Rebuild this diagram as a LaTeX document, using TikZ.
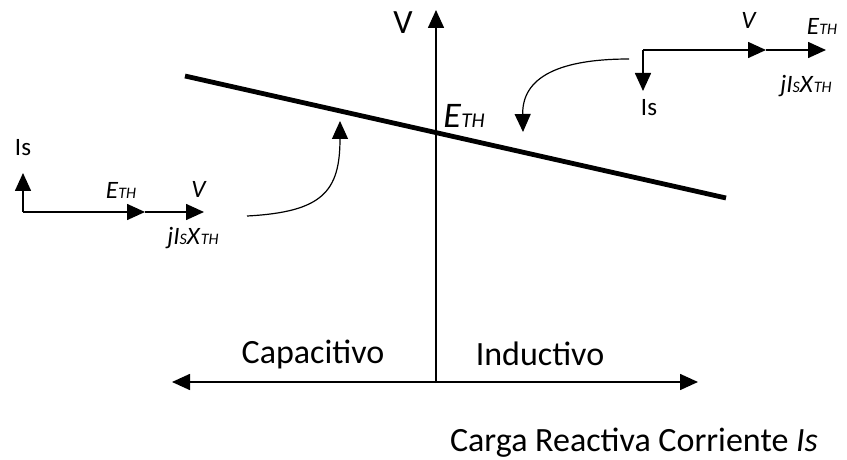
\documentclass[tikz,border=0pt]{standalone}
\usepackage{fontspec}
\setmainfont{Carlito}
\usetikzlibrary{arrows,arrows.meta}
\tikzset{
 lbl/.style={inner sep=0pt, font=\fontsize{17}{20}\selectfont},
 plbl/.style={inner sep=0pt, font=\fontsize{12.5}{14}\selectfont},
 phasor/.style={black, line width=0.8pt, ->, >={Triangle[length=9pt,width=8pt]}},
}
\newcommand{\eth}[1]{\textit{E}{\fontsize{#1}{#1}\selectfont\textit{TH}}}
\newcommand{\jisx}{\textit{jI}{\fontsize{8}{9}\selectfont\textit{S}}\textit{X}{\fontsize{8}{9}\selectfont\textit{TH}}}

\begin{document}
\begin{tikzpicture}[x=0.5pt, y=-0.5pt]
\useasboundingbox (0,0) rectangle (847,460);
% axes
\coordinate (O) at (436,383);
\coordinate (Vtop) at (436,10);
\coordinate (Xl) at (172,382);
\coordinate (Xr) at (698,382);
\draw[phasor] (O)--(Vtop);
\draw[phasor, <->] (Xl)--(Xr);
\node[lbl] (vax) at (403,23) {V};
\node[lbl] (cap) at (313,354) {Capacitivo};
\node[lbl] (ind) at (540,354) {Inductivo};
\node[lbl] (carga) at (634,443) {Carga Reactiva Corriente \textit{Is}};

% characteristic
\coordinate (A) at (185,76);
\coordinate (B) at (726,198);
\draw[black, line width=2.4pt] (A)--(B);
\node[inner sep=0pt, font=\fontsize{18}{20}\selectfont] (eth) at (464,116) {\eth{10.5}};

% capacitive phasors (left)
\coordinate (L0) at (23,212);
\coordinate (L1) at (145,212);
\coordinate (L2) at (204,212);
\coordinate (Lis) at (23,173);
\draw[phasor] (L0)--(Lis);
\draw[phasor] (L0)--(L1);
\draw[phasor] (L1)--(L2);
\node[plbl] (isl) at (23,148) {Is};
\node[plbl] (ethl) at (121,190) {\eth{8}};
\node[plbl] (vl) at (199,189) {\textit{V}};
\node[plbl] (jxl) at (193,238) {\jisx};

% inductive phasors (right)
\coordinate (R0) at (643,50);
\coordinate (R1) at (766,50);
\coordinate (R2) at (826,50);
\coordinate (Ris) at (643,91);
\draw[phasor] (R0)--(Ris);
\draw[phasor] (R0)--(R1);
\draw[phasor] (R1)--(R2);
\node[plbl] (isr) at (649,108) {Is};
\node[plbl] (vr) at (749,20) {\textit{V}};
\node[plbl] (ethr) at (822,26) {\eth{8}};
\node[plbl] (jxr) at (806,86) {\jisx};

% curved arrows
\coordinate (c1s) at (247,216);
\coordinate (c1e) at (340,121);
\coordinate (c2s) at (629,59);
\coordinate (c2e) at (523,132);
\draw[phasor, line width=0.6pt] (c1s) .. controls (322,212) and (340,192) .. (c1e);
\draw[phasor, line width=0.6pt] (c2s) .. controls (570,59) and (522,72) .. (c2e);
\end{tikzpicture}
\end{document}
